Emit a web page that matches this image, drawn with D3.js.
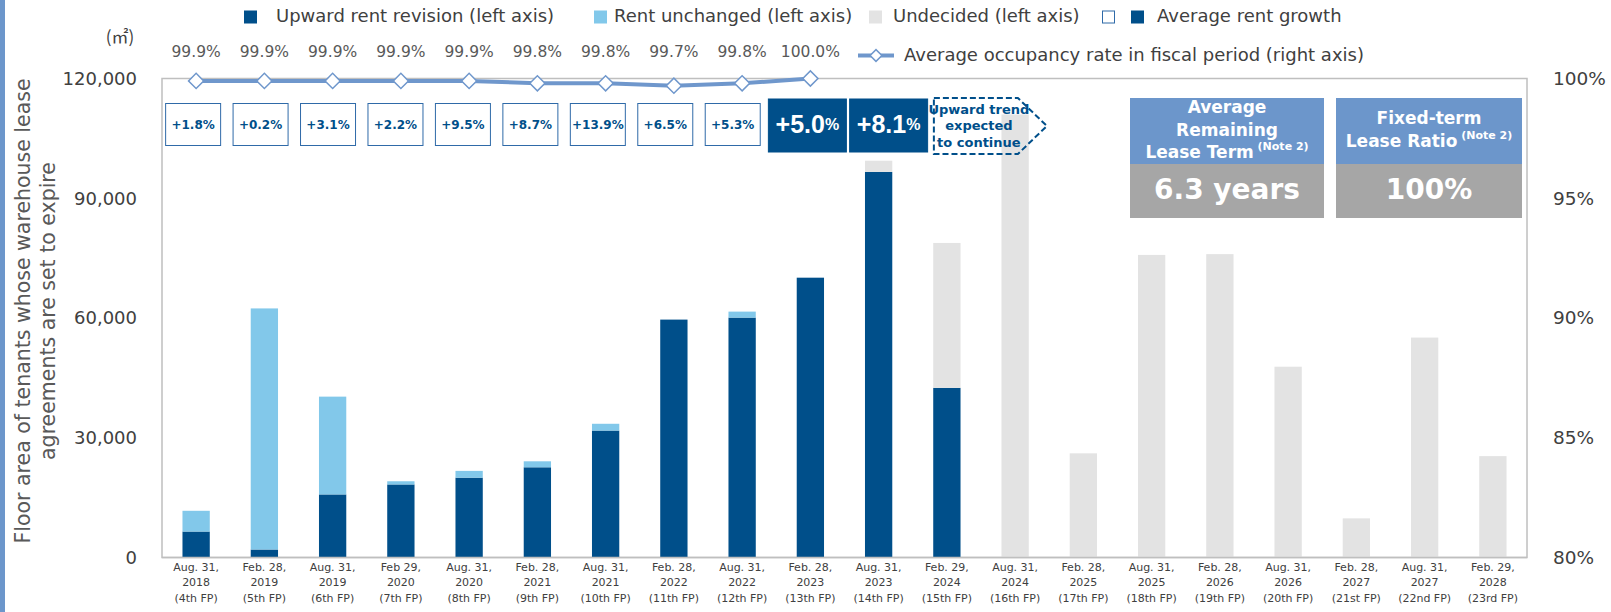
<html lang="en">
<head>
<meta charset="utf-8">
<script src="https://cdn.jsdelivr.net/npm/d3@7/dist/d3.min.js"></script>
</head>
<style>
body{margin:0;background:#fff;}
text{font-family:"DejaVu Sans",sans-serif;}
</style>
<body>
<div id="drawarea"></div>
<script>
// data
const categories=[
["Aug. 31,","2018","(4th FP)"],["Feb. 28,","2019","(5th FP)"],["Aug. 31,","2019","(6th FP)"],
["Feb 29,","2020","(7th FP)"],["Aug. 31,","2020","(8th FP)"],["Feb. 28,","2021","(9th FP)"],
["Aug. 31,","2021","(10th FP)"],["Feb. 28,","2022","(11th FP)"],["Aug. 31,","2022","(12th FP)"],
["Feb. 28,","2023","(13th FP)"],["Aug. 31,","2023","(14th FP)"],["Feb. 29,","2024","(15th FP)"],
["Aug. 31,","2024","(16th FP)"],["Feb. 28,","2025","(17th FP)"],["Aug. 31,","2025","(18th FP)"],
["Feb. 28,","2026","(19th FP)"],["Aug. 31,","2026","(20th FP)"],["Feb. 28,","2027","(21st FP)"],
["Aug. 31,","2027","(22nd FP)"],["Feb. 29,","2028","(23rd FP)"]]
const upward=[6500,2000,15800,18300,20000,22600,31800,59600,60100,70100,96600,42500,0,0,0,0,0,0,0,0]
const unchanged=[5200,60400,24500,800,1700,1500,1700,0,1500,0,0,0,0,0,0,0,0,0,0,0]
const undecided=[0,0,0,0,0,0,0,0,0,0,2800,36300,111000,26100,75800,76000,47800,9800,55100,25400]
const occupancy=[99.9,99.9,99.9,99.9,99.9,99.8,99.8,99.7,99.8,100.0]
const growth=["+1.8%","+0.2%","+3.1%","+2.2%","+9.5%","+8.7%","+13.9%","+6.5%","+5.3%","+5.0%","+8.1%"]
const growthHighlight=[false,false,false,false,false,false,false,false,false,true,true]
const leftTicks=[0,30000,60000,90000,120000]
const rightTicks=[80,85,90,95,100]

const W=1611,H=612
const m={l:162,r:1527,t:78.5,b:557.5}
const cNavy="#004f8a",cLight="#82c8ea",cGray="#e3e3e3",cLine="#6f97cc",cHead="#6c96cb",cBoxGray="#a6a6a6",cText="#404040"

const svg=d3.select("#drawarea").append("svg").attr("width",W).attr("height",H)
svg.append("rect").attr("width",W).attr("height",H).attr("fill","#fff")
svg.append("rect").attr("x",0).attr("y",0).attr("width",5).attr("height",H).attr("fill",cHead)

const x=d3.scaleBand().domain(d3.range(categories.length)).range([m.l,m.r]).paddingInner(0.6).paddingOuter(0.3)
const y=d3.scaleLinear().domain([0,120000]).range([m.b,m.t])
const y2=d3.scaleLinear().domain([80,100]).range([m.b,m.t])
const cx=i=>x(i)+x.bandwidth()/2

// frame
svg.append("rect").attr("x",m.l).attr("y",m.t).attr("width",m.r-m.l).attr("height",m.b-m.t)
  .attr("fill","none").attr("stroke","#bfbfbf").attr("stroke-width",1.5)

// stacked bars
const rows=categories.map((c,i)=>({i:i,upward:upward[i],unchanged:unchanged[i],undecided:undecided[i]}))
const stack=d3.stack().keys(["upward","unchanged","undecided"])(rows)
const colors={upward:cNavy,unchanged:cLight,undecided:cGray}
svg.append("g").selectAll("g").data(stack).join("g").attr("fill",d=>colors[d.key])
  .selectAll("rect").data(d=>d.filter(v=>v[1]>v[0])).join("rect")
  .attr("x",d=>x(d.data.i)).attr("width",x.bandwidth())
  .attr("y",d=>y(d[1])).attr("height",d=>y(d[0])-y(d[1]))

// bottom line again over bars
svg.append("line").attr("x1",m.l).attr("x2",m.r).attr("y1",m.b).attr("y2",m.b).attr("stroke","#bfbfbf").attr("stroke-width",1.5)

// axes
const gl=svg.append("g").attr("transform",`translate(${m.l},0)`)
  .call(d3.axisLeft(y).tickValues(leftTicks).tickFormat(d3.format(",")).tickSize(0).tickPadding(25))
gl.select(".domain").remove()
gl.selectAll("text").style("font-family","DejaVu Sans").style("font-size","18px").attr("fill",cText)
const gr=svg.append("g").attr("transform",`translate(${m.r},0)`)
  .call(d3.axisRight(y2).tickValues(rightTicks).tickFormat(d=>d+"%").tickSize(0).tickPadding(26))
gr.select(".domain").remove()
gr.selectAll("text").style("font-family","DejaVu Sans").style("font-size","18.5px").attr("fill",cText)

svg.append("text").attr("x",120).attr("y",38).attr("text-anchor","middle").attr("dominant-baseline","middle")
  .style("font-family","'Noto Sans CJK JP'").style("font-size","17px").attr("fill",cText).text("(㎡)")

// x labels
const xl=svg.append("g").selectAll("text").data(categories).join("text")
  .attr("x",(d,i)=>cx(i)).attr("y",567).attr("text-anchor","middle").style("font-size","11px").attr("fill",cText)
xl.selectAll("tspan").data(d=>d).join("tspan").attr("x",function(){return this.parentNode.getAttribute("x")})
  .attr("dy",(d,j)=>j==0?"0.35em":"15.5px").text(d=>d)

// y title
const yt=svg.append("text").attr("transform","translate(23,311) rotate(-90)").attr("text-anchor","middle")
  .style("font-size","20.5px").attr("fill","#595959")
yt.append("tspan").attr("x",0).attr("dy","0.35em").text("Floor area of tenants whose warehouse lease")
yt.append("tspan").attr("x",0).attr("dy","25px").text("agreements are set to expire")

// occupancy line
const line=d3.line().x((d,i)=>cx(i)).y(d=>y2(d))
svg.append("path").datum(occupancy).attr("d",line).attr("fill","none").attr("stroke",cLine).attr("stroke-width",4)
svg.append("g").selectAll("path").data(occupancy).join("path")
  .attr("d",d3.symbol(d3.symbolSquare,115)())
  .attr("transform",(d,i)=>`translate(${cx(i)},${y2(d)}) rotate(45)`)
  .attr("fill","#fff").attr("stroke",cLine).attr("stroke-width",1.5)
svg.append("g").selectAll("text").data(occupancy).join("text")
  .attr("x",(d,i)=>cx(i)).attr("y",52).attr("text-anchor","middle").attr("dominant-baseline","middle")
  .style("font-size","15.5px").attr("fill","#595959").text(d=>d.toFixed(1)+"%")

// growth boxes
const boxShift=i=>growthHighlight[i]?(i==9?-3:10):-3-0.8*i
const gb=svg.append("g").selectAll("g").data(growth).join("g")
  .attr("transform",(d,i)=>`translate(${cx(i)+boxShift(i)},0)`)
gb.append("rect")
  .attr("x",(d,i)=>growthHighlight[i]?-39:-27.5).attr("width",(d,i)=>growthHighlight[i]?78:55)
  .attr("y",(d,i)=>growthHighlight[i]?99:103.5).attr("height",(d,i)=>growthHighlight[i]?53:42)
  .attr("fill",(d,i)=>growthHighlight[i]?cNavy:"#fff").attr("stroke",(d,i)=>growthHighlight[i]?cNavy:"#2f6aa8").attr("stroke-width",1)
gb.each(function(d,i){
  const g=d3.select(this)
  if(growthHighlight[i]){
    const t=g.append("text").attr("x",0).attr("y",126).attr("text-anchor","middle").attr("dominant-baseline","middle").attr("fill","#fff")
      .style("font-family","'Liberation Sans'").style("font-weight","bold")
    t.append("tspan").style("font-size","25px").text(d.replace("%",""))
    t.append("tspan").style("font-size","16px").text("%")
  } else {
    g.append("text").attr("x",0).attr("y",125).attr("text-anchor","middle").attr("dominant-baseline","middle")
      .style("font-size","12px").style("font-weight","bold").attr("fill",cNavy).text(d)
  }
})

// upward trend arrow box
const ax=cx(11)-13
svg.append("path").attr("d",`M${ax},98 H${ax+84} L${ax+113},126 L${ax+84},154 H${ax} Z`)
  .attr("fill","none").attr("stroke",cNavy).attr("stroke-width",2).attr("stroke-dasharray","6,3")
const at=svg.append("text").attr("text-anchor","middle").style("font-size","13px").style("font-weight","bold").attr("fill",cNavy)
;["Upward trend","expected","to continue"].forEach((s,j)=>at.append("tspan").attr("x",ax+45).attr("y",110+j*16.5).attr("dominant-baseline","middle").text(s))

// info boxes
const info=[{x:1130,w:194,head:["Average","Remaining","Lease Term"],hy:108,val:"6.3 years"},
            {x:1336,w:186,head:["Fixed-term","Lease Ratio"],hy:119,val:"100%"}]
info.forEach(b=>{
  svg.append("rect").attr("x",b.x).attr("y",98).attr("width",b.w).attr("height",66).attr("fill",cHead)
  svg.append("rect").attr("x",b.x).attr("y",164).attr("width",b.w).attr("height",54).attr("fill",cBoxGray)
  b.head.forEach((s,j)=>{
    const t=svg.append("text").attr("x",b.x+b.w/2).attr("y",b.hy+j*22.5).attr("text-anchor","middle").attr("dominant-baseline","middle")
      .attr("fill","#fff").style("font-weight","bold").style("font-size","17px")
    t.append("tspan").text(s)
    if(j==b.head.length-1){t.append("tspan").style("font-size","11px").attr("dy","-6").text(" (Note 2)")}
  })
  svg.append("text").attr("x",b.x+b.w/2).attr("y",191).attr("text-anchor","middle").attr("dominant-baseline","middle")
    .attr("fill","#fff").style("font-weight","bold").style("font-size","28px").text(b.val)
})

// legend
const lg=svg.append("g").style("font-size","18px").attr("fill",cText)
const leg1=[{x:244,tx:276,fill:cNavy,label:"Upward rent revision (left axis)"},{x:594,tx:614,fill:cLight,label:"Rent unchanged (left axis)"},
            {x:869,tx:893,fill:cGray,label:"Undecided (left axis)"}]
lg.selectAll("rect.k").data(leg1).join("rect").attr("class","k").attr("x",d=>d.x).attr("y",10.5).attr("width",13).attr("height",13).attr("fill",d=>d.fill)
lg.selectAll("text.k").data(leg1).join("text").attr("class","k").attr("x",d=>d.tx).attr("y",17).attr("dominant-baseline","middle").text(d=>d.label)
lg.append("rect").attr("x",1102.5).attr("y",11).attr("width",12).attr("height",12).attr("fill","#fff").attr("stroke","#2f6aa8")
lg.append("rect").attr("x",1131).attr("y",10.5).attr("width",13).attr("height",13).attr("fill",cNavy)
lg.append("text").attr("x",1157).attr("y",17).attr("dominant-baseline","middle").text("Average rent growth")
lg.append("line").attr("x1",858).attr("x2",894).attr("y1",55.5).attr("y2",55.5).attr("stroke",cLine).attr("stroke-width",4)
lg.append("path").attr("d",d3.symbol(d3.symbolSquare,70)()).attr("transform","translate(876,55.5) rotate(45)")
  .attr("fill","#fff").attr("stroke",cLine).attr("stroke-width",1.5)
lg.append("text").attr("x",904).attr("y",55.5).attr("dominant-baseline","middle").text("Average occupancy rate in fiscal period (right axis)")
</script>
</body>
</html>
